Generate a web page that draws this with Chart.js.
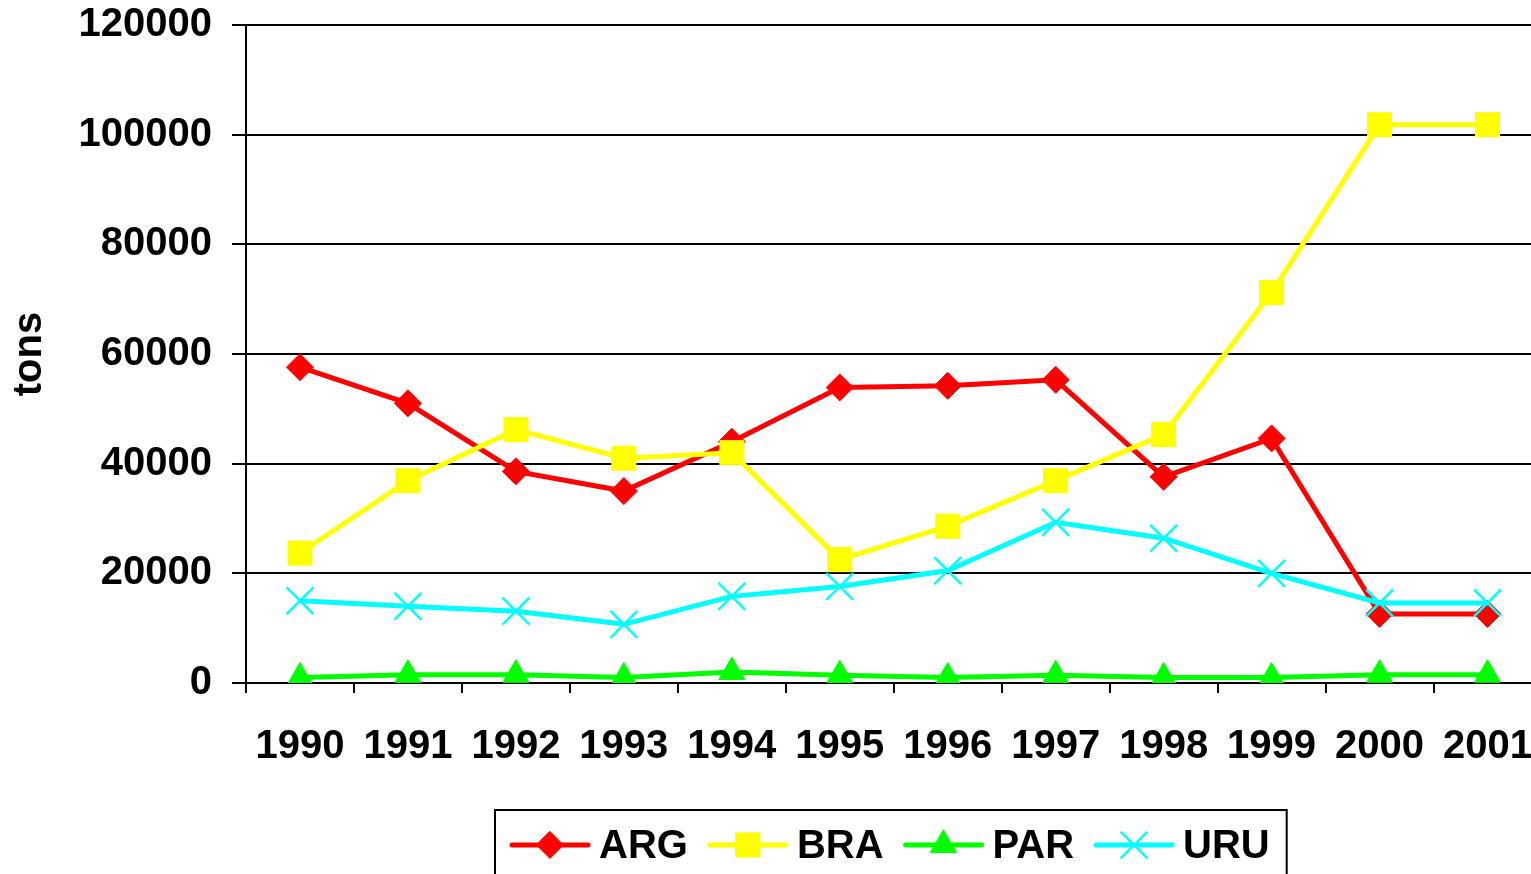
<!DOCTYPE html>
<html>
<head>
<meta charset="utf-8">
<script src="https://cdn.jsdelivr.net/npm/chart.js@4"></script>
<style>
  html, body { margin: 0; padding: 0; background: #fff; overflow: hidden; }
  #wrap { width: 1563px; height: 874px; }
</style>
</head>
<body>
<div id="wrap"><canvas id="c" width="1563" height="874"></canvas></div>
<script>
const years = ['1990','1991','1992','1993','1994','1995','1996','1997','1998','1999','2000','2001'];
const ARG = [57600, 51000, 38600, 35000, 44000, 53900, 54200, 55300, 37600, 44600, 12600, 12600];
const BRA = [23700, 36900, 46200, 41000, 42000, 22500, 28600, 36900, 45300, 71200, 101800, 101800];
const PAR = [1000, 1500, 1500, 1000, 2000, 1400, 1000, 1400, 1000, 1000, 1500, 1500];
const URU = [15000, 14000, 13100, 10700, 15800, 17600, 20500, 29300, 26400, 20000, 14600, 14600];
const yTicks = [0, 20000, 40000, 60000, 80000, 100000, 120000];

const FONT = "'Liberation Sans', Arial, sans-serif";

const legendPlugin = {
  id: 'customLegend',
  afterDraw(chart) {
    const ctx = chart.ctx;
    const sets = chart.data.datasets;
    ctx.save();
    ctx.font = 'bold 40px ' + FONT;
    const lineLen = 76, gapText = 11, gapItem = 22, padX = 17;
    const widths = sets.map(d => lineLen + gapText + ctx.measureText(d.label).width);
    const total = widths.reduce((a, b) => a + b, 0) + gapItem * (sets.length - 1);
    const cx = (chart.chartArea.left + chart.chartArea.right) / 2 - 3;
    const boxW = total + padX * 2;
    const boxX = Math.round(cx - boxW / 2);
    const boxY = 810;
    ctx.lineWidth = 2;
    ctx.strokeStyle = '#000';
    ctx.strokeRect(boxX, boxY, boxW, 90);
    const y = 845;
    let x = boxX + padX;
    sets.forEach((d, i) => {
      ctx.strokeStyle = d.borderColor;
      ctx.lineWidth = 5;
      ctx.lineCap = 'round';
      ctx.beginPath();
      ctx.moveTo(x, y); ctx.lineTo(x + lineLen, y);
      ctx.stroke();
      const mx = x + lineLen / 2;
      ctx.fillStyle = d.pointBackgroundColor;
      ctx.strokeStyle = d.pointBorderColor;
      ctx.lineWidth = d.pointBorderWidth;
      const r = d.pointRadius;
      ctx.beginPath();
      if (d.pointStyle === 'rectRot') {
        ctx.moveTo(mx, y - r); ctx.lineTo(mx + r, y); ctx.lineTo(mx, y + r); ctx.lineTo(mx - r, y); ctx.closePath();
        ctx.fill(); ctx.stroke();
      } else if (d.pointStyle === 'rect') {
        const s = r * Math.SQRT1_2;
        ctx.rect(mx - s, y - s, 2 * s, 2 * s); ctx.fill(); ctx.stroke();
      } else if (d.pointStyle === 'triangle') {
        ctx.moveTo(mx, y - r);
        ctx.lineTo(mx + r * Math.sin(2 * Math.PI / 3), y - r * Math.cos(2 * Math.PI / 3));
        ctx.lineTo(mx - r * Math.sin(2 * Math.PI / 3), y - r * Math.cos(2 * Math.PI / 3));
        ctx.closePath(); ctx.fill(); ctx.stroke();
      } else {
        const o = r * Math.SQRT1_2;
        ctx.lineCap = 'butt';
        ctx.moveTo(mx - o, y - o); ctx.lineTo(mx + o, y + o);
        ctx.moveTo(mx + o, y - o); ctx.lineTo(mx - o, y + o);
        ctx.stroke();
      }
      ctx.fillStyle = '#000';
      ctx.textBaseline = 'middle';
      ctx.textAlign = 'left';
      ctx.fillText(d.label, x + lineLen + gapText, y + 2);
      x += widths[i] + gapItem;
    });
    ctx.restore();
  }
};

function ds(label, data, color, style, radius, bw, order) {
  return {
    label, data,
    borderColor: color,
    backgroundColor: color,
    borderWidth: 5,
    pointStyle: style,
    pointRadius: radius,
    pointHoverRadius: radius,
    pointBackgroundColor: color,
    pointBorderColor: color,
    pointBorderWidth: bw,
    tension: 0,
    order
  };
}

new Chart(document.getElementById('c'), {
  type: 'line',
  data: {
    labels: years,
    datasets: [
      ds('ARG', ARG, '#ff0000', 'rectRot', 13.5, 1, 4),
      ds('BRA', BRA, '#ffff00', 'rect', 17, 1, 3),
      ds('PAR', PAR, '#00ff00', 'triangle', 15, 1, 2),
      ds('URU', URU, '#00ffff', 'crossRot', 19, 2.5, 1)
    ]
  },
  plugins: [legendPlugin],
  options: {
    responsive: false,
    animation: false,
    layout: { padding: { top: 25, right: 2, left: 0, bottom: 0 } },
    plugins: { legend: { display: false }, tooltip: { enabled: false } },
    scales: {
      x: {
        type: 'category',
        offset: true,
        grid: { display: true, drawOnChartArea: false, drawTicks: true, tickLength: 10, offset: true, color: '#000', lineWidth: 2 },
        border: { display: true, color: '#000', width: 2 },
        ticks: { color: '#000', font: { family: FONT, size: 40, weight: 'bold' }, padding: 30, maxRotation: 0, autoSkip: false },
        afterFit(scale) { scale.height = 874 - 683; scale.paddingLeft = 0; scale.paddingRight = 0; }
      },
      y: {
        min: 0, max: 120000,
        afterBuildTicks(scale) { scale.ticks = yTicks.map(v => ({ value: v })); },
        grid: { display: true, drawOnChartArea: true, drawTicks: true, tickLength: 14, color: '#000', lineWidth: 2 },
        border: { display: true, color: '#000', width: 2 },
        ticks: { color: '#000', font: { family: FONT, size: 40, weight: 'bold' }, padding: 20, callback: v => String(v) },
        title: { display: true, text: 'tons', color: '#000', font: { family: FONT, size: 40, weight: 'bold' }, padding: { top: 6, bottom: 0 } },
        afterFit(scale) { scale.width = 246; scale.paddingTop = 0; scale.paddingBottom = 0; }
      }
    }
  }
});
</script>
</body>
</html>
